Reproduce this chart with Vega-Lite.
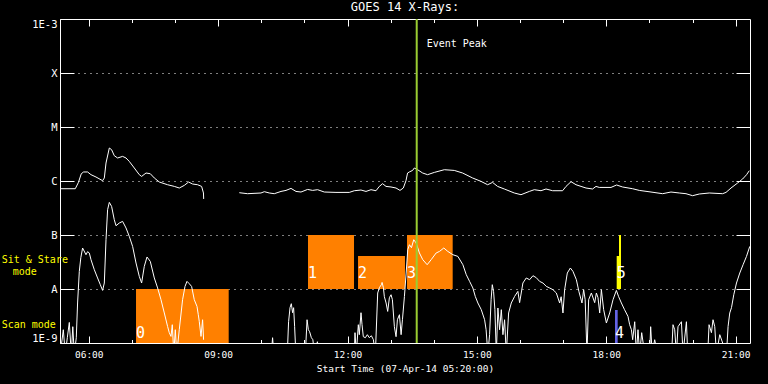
{
  "$schema": "https://vega.github.io/schema/vega-lite/v6.json",
  "width": 690,
  "height": 324,
  "autosize": "none",
  "padding": {"left": 60, "top": 19, "right": 18, "bottom": 41},
  "background": "black",
  "title": {"text": "GOES 14 X-Rays:", "color": "white", "font": "DejaVu Sans Mono", "fontSize": 12, "fontWeight": "normal", "anchor": "middle", "baseline": "alphabetic", "offset": -5},
  "config": {
    "view": {"stroke": null},
    "axis": {"domainColor": "white", "tickColor": "white", "labelColor": "white", "titleColor": "white", "labelFont": "DejaVu Sans Mono", "titleFont": "DejaVu Sans Mono", "titleFontWeight": "normal", "domainWidth": 1, "tickWidth": 1}
  },
  "datasets": {
    "boxes": [
      {"id": "0", "kind": "obs", "t0": 7.096, "t1": 9.245, "v0": -9, "v1": -8},
      {"id": "1", "kind": "obs", "t0": 11.084, "t1": 12.151, "v0": -8, "v1": -7},
      {"id": "2", "kind": "obs", "t0": 12.244, "t1": 13.333, "v0": -8, "v1": -7.389},
      {"id": "3", "kind": "obs", "t0": 13.38, "t1": 14.439, "v0": -8, "v1": -7},
      {"id": "4", "kind": "scan", "t0": 18.203, "t1": 18.265, "v0": -9, "v1": -8.389},
      {"id": "5", "kind": "stare", "t0": 18.242, "t1": 18.342, "v0": -8, "v1": -7.389},
      {"id": "", "kind": "stare", "t0": 18.296, "t1": 18.342, "v0": -8, "v1": -7}
    ],
    "peak": [{"t": 13.605}],
    "notes": [
      {"kind": "peak", "text": "Event Peak", "t": 13.836, "v": -3.519},
      {"kind": "mode", "text": "Sit & Stare", "t": 3.981, "v": -7.524},
      {"kind": "mode", "text": "mode", "t": 4.237, "v": -7.741},
      {"kind": "mode", "text": "Scan mode", "t": 3.981, "v": -8.717}
    ],
    "flux": [
      {"s":"L1","t":5.340,"v":-6.143},{"s":"L1","t":5.688,"v":-6.143},{"s":"L1","t":5.758,"v":-6.031},{"s":"L1","t":5.827,"v":-5.865},{"s":"L1","t":5.881,"v":-5.833},{"s":"L1","t":5.973,"v":-5.833},{"s":"L1","t":6.052,"v":-5.883},{"s":"L1","t":6.168,"v":-5.926},{"s":"L1","t":6.321,"v":-5.994},{"s":"L1","t":6.361,"v":-5.944},{"s":"L1","t":6.400,"v":-5.667},{"s":"L1","t":6.477,"v":-5.389},{"s":"L1","t":6.530,"v":-5.420},{"s":"L1","t":6.592,"v":-5.531},{"s":"L1","t":6.669,"v":-5.574},{"s":"L1","t":6.785,"v":-5.544},{"s":"L1","t":6.864,"v":-5.574},{"s":"L1","t":6.940,"v":-5.637},{"s":"L1","t":7.056,"v":-5.759},{"s":"L1","t":7.172,"v":-5.883},{"s":"L1","t":7.226,"v":-5.915},{"s":"L1","t":7.328,"v":-5.852},{"s":"L1","t":7.427,"v":-5.865},{"s":"L1","t":7.520,"v":-5.944},{"s":"L1","t":7.636,"v":-6.019},{"s":"L1","t":7.828,"v":-6.069},{"s":"L1","t":7.984,"v":-6.100},{"s":"L1","t":8.100,"v":-6.130},{"s":"L1","t":8.216,"v":-6.081},{"s":"L1","t":8.315,"v":-6.019},{"s":"L1","t":8.408,"v":-6.056},{"s":"L1","t":8.524,"v":-6.069},{"s":"L1","t":8.617,"v":-6.100},{"s":"L1","t":8.660,"v":-6.222},{"s":"L1","t":8.665,"v":-6.333},
      {"s":"L2","t":9.491,"v":-6.217},{"s":"L2","t":9.683,"v":-6.235},{"s":"L2","t":9.994,"v":-6.222},{"s":"L2","t":10.071,"v":-6.198},{"s":"L2","t":10.187,"v":-6.222},{"s":"L2","t":10.302,"v":-6.235},{"s":"L2","t":10.458,"v":-6.193},{"s":"L2","t":10.574,"v":-6.174},{"s":"L2","t":10.690,"v":-6.137},{"s":"L2","t":10.806,"v":-6.193},{"s":"L2","t":10.922,"v":-6.204},{"s":"L2","t":11.075,"v":-6.156},{"s":"L2","t":11.191,"v":-6.174},{"s":"L2","t":11.307,"v":-6.161},{"s":"L2","t":11.462,"v":-6.204},{"s":"L2","t":11.733,"v":-6.211},{"s":"L2","t":12.042,"v":-6.211},{"s":"L2","t":12.158,"v":-6.180},{"s":"L2","t":12.313,"v":-6.167},{"s":"L2","t":12.429,"v":-6.193},{"s":"L2","t":12.545,"v":-6.161},{"s":"L2","t":12.661,"v":-6.180},{"s":"L2","t":12.738,"v":-6.100},{"s":"L2","t":12.814,"v":-6.050},{"s":"L2","t":12.893,"v":-6.100},{"s":"L2","t":13.009,"v":-6.111},{"s":"L2","t":13.125,"v":-6.130},{"s":"L2","t":13.217,"v":-6.174},{"s":"L2","t":13.294,"v":-6.130},{"s":"L2","t":13.356,"v":-5.994},{"s":"L2","t":13.393,"v":-5.852},{"s":"L2","t":13.433,"v":-5.833},{"s":"L2","t":13.510,"v":-5.804},{"s":"L2","t":13.549,"v":-5.759},{"s":"L2","t":13.626,"v":-5.791},{"s":"L2","t":13.742,"v":-5.852},{"s":"L2","t":13.857,"v":-5.883},{"s":"L2","t":14.013,"v":-5.841},{"s":"L2","t":14.245,"v":-5.791},{"s":"L2","t":14.476,"v":-5.804},{"s":"L2","t":14.669,"v":-5.852},{"s":"L2","t":14.901,"v":-5.944},{"s":"L2","t":15.096,"v":-6.007},{"s":"L2","t":15.249,"v":-6.069},{"s":"L2","t":15.364,"v":-6.026},{"s":"L2","t":15.480,"v":-6.100},{"s":"L2","t":15.636,"v":-6.148},{"s":"L2","t":15.868,"v":-6.222},{"s":"L2","t":16.023,"v":-6.254},{"s":"L2","t":16.216,"v":-6.193},{"s":"L2","t":16.332,"v":-6.161},{"s":"L2","t":16.487,"v":-6.180},{"s":"L2","t":16.603,"v":-6.148},{"s":"L2","t":16.756,"v":-6.180},{"s":"L2","t":16.988,"v":-6.180},{"s":"L2","t":17.067,"v":-6.100},{"s":"L2","t":17.183,"v":-6.013},{"s":"L2","t":17.299,"v":-6.069},{"s":"L2","t":17.415,"v":-6.100},{"s":"L2","t":17.531,"v":-6.130},{"s":"L2","t":17.684,"v":-6.148},{"s":"L2","t":17.762,"v":-6.100},{"s":"L2","t":17.839,"v":-6.119},{"s":"L2","t":18.110,"v":-6.119},{"s":"L2","t":18.240,"v":-6.074},{"s":"L2","t":18.379,"v":-6.111},{"s":"L2","t":18.611,"v":-6.143},{"s":"L2","t":18.766,"v":-6.174},{"s":"L2","t":19.038,"v":-6.204},{"s":"L2","t":19.307,"v":-6.235},{"s":"L2","t":19.501,"v":-6.204},{"s":"L2","t":19.694,"v":-6.222},{"s":"L2","t":19.849,"v":-6.235},{"s":"L2","t":20.002,"v":-6.272},{"s":"L2","t":20.157,"v":-6.241},{"s":"L2","t":20.389,"v":-6.222},{"s":"L2","t":20.698,"v":-6.235},{"s":"L2","t":20.777,"v":-6.211},{"s":"L2","t":20.893,"v":-6.130},{"s":"L2","t":21.046,"v":-6.037},{"s":"L2","t":21.162,"v":-5.963},{"s":"L2","t":21.254,"v":-5.883},{"s":"L2","t":21.317,"v":-5.809},
      {"s":"S1","t":5.340,"v":-9.2},{"s":"S1","t":5.410,"v":-8.754},{"s":"S1","t":5.456,"v":-9.2},{"s":"S1","t":5.503,"v":-8.902},{"s":"S1","t":5.549,"v":-8.619},{"s":"S1","t":5.595,"v":-9.2},{"s":"S1","t":5.630,"v":-8.698},{"s":"S1","t":5.665,"v":-9.2},{"s":"S1","t":5.711,"v":-8.902},{"s":"S1","t":5.741,"v":-8.259},{"s":"S1","t":5.781,"v":-7.674},{"s":"S1","t":5.816,"v":-7.420},{"s":"S1","t":5.857,"v":-7.241},{"s":"S1","t":5.936,"v":-7.365},{"s":"S1","t":5.973,"v":-7.309},{"s":"S1","t":6.013,"v":-7.333},{"s":"S1","t":6.052,"v":-7.457},{"s":"S1","t":6.129,"v":-7.643},{"s":"S1","t":6.205,"v":-7.796},{"s":"S1","t":6.268,"v":-7.920},{"s":"S1","t":6.321,"v":-8.026},{"s":"S1","t":6.361,"v":-7.889},{"s":"S1","t":6.400,"v":-7.087},{"s":"S1","t":6.437,"v":-6.531},{"s":"S1","t":6.477,"v":-6.396},{"s":"S1","t":6.530,"v":-6.470},{"s":"S1","t":6.592,"v":-6.717},{"s":"S1","t":6.632,"v":-6.828},{"s":"S1","t":6.708,"v":-6.778},{"s":"S1","t":6.785,"v":-6.748},{"s":"S1","t":6.864,"v":-6.870},{"s":"S1","t":6.940,"v":-7.026},{"s":"S1","t":7.017,"v":-7.211},{"s":"S1","t":7.096,"v":-7.519},{"s":"S1","t":7.172,"v":-7.767},{"s":"S1","t":7.226,"v":-7.889},{"s":"S1","t":7.288,"v":-7.581},{"s":"S1","t":7.351,"v":-7.407},{"s":"S1","t":7.427,"v":-7.489},{"s":"S1","t":7.520,"v":-7.796},{"s":"S1","t":7.597,"v":-7.981},{"s":"S1","t":7.675,"v":-8.198},{"s":"S1","t":7.752,"v":-8.444},{"s":"S1","t":7.828,"v":-8.693},{"s":"S1","t":7.867,"v":-8.809},{"s":"S1","t":7.907,"v":-8.878},{"s":"S1","t":7.937,"v":-8.661},{"s":"S1","t":7.972,"v":-9.2},{"s":"S1","t":8.007,"v":-8.754},{"s":"S1","t":8.041,"v":-9.2},{"s":"S1","t":8.099,"v":-8.754},{"s":"S1","t":8.176,"v":-8.198},{"s":"S1","t":8.232,"v":-7.952},{"s":"S1","t":8.278,"v":-7.859},{"s":"S1","t":8.331,"v":-7.902},{"s":"S1","t":8.385,"v":-7.952},{"s":"S1","t":8.447,"v":-8.198},{"s":"S1","t":8.510,"v":-8.322},{"s":"S1","t":8.540,"v":-8.476},{"s":"S1","t":8.563,"v":-8.600},{"s":"S1","t":8.603,"v":-8.878},{"s":"S1","t":8.640,"v":-8.569},{"s":"S1","t":8.663,"v":-8.94},
      {"s":"S2","t":9.491,"v":-9.2},{"s":"S2","t":10.233,"v":-9.2},{"s":"S2","t":10.263,"v":-8.902},{"s":"S2","t":10.291,"v":-9.2},{"s":"S2","t":10.604,"v":-9.2},{"s":"S2","t":10.634,"v":-8.606},{"s":"S2","t":10.667,"v":-8.346},{"s":"S2","t":10.697,"v":-8.272},{"s":"S2","t":10.727,"v":-8.439},{"s":"S2","t":10.751,"v":-8.346},{"s":"S2","t":10.774,"v":-8.698},{"s":"S2","t":10.802,"v":-9.2},{"s":"S2","t":11.023,"v":-9.2},{"s":"S2","t":11.062,"v":-8.569},{"s":"S2","t":11.092,"v":-8.754},{"s":"S2","t":11.122,"v":-8.791},{"s":"S2","t":11.162,"v":-8.902},{"s":"S2","t":11.197,"v":-8.939},{"s":"S2","t":11.232,"v":-9.2},{"s":"S2","t":11.302,"v":-8.976},{"s":"S2","t":11.340,"v":-9.2},{"s":"S2","t":12.158,"v":-9.2},{"s":"S2","t":12.174,"v":-8.809},{"s":"S2","t":12.204,"v":-9.2},{"s":"S2","t":12.251,"v":-8.661},{"s":"S2","t":12.274,"v":-8.846},{"s":"S2","t":12.313,"v":-8.439},{"s":"S2","t":12.337,"v":-8.661},{"s":"S2","t":12.367,"v":-8.883},{"s":"S2","t":12.414,"v":-8.902},{"s":"S2","t":12.460,"v":-8.846},{"s":"S2","t":12.507,"v":-8.902},{"s":"S2","t":12.553,"v":-8.865},{"s":"S2","t":12.600,"v":-8.939},{"s":"S2","t":12.646,"v":-9.2},{"s":"S2","t":12.700,"v":-8.074},{"s":"S2","t":12.739,"v":-7.976},{"s":"S2","t":12.786,"v":-7.920},{"s":"S2","t":12.802,"v":-7.878},{"s":"S2","t":12.832,"v":-7.976},{"s":"S2","t":12.855,"v":-8.143},{"s":"S2","t":12.895,"v":-8.259},{"s":"S2","t":12.932,"v":-8.415},{"s":"S2","t":12.971,"v":-8.161},{"s":"S2","t":13.010,"v":-8.106},{"s":"S2","t":13.041,"v":-8.198},{"s":"S2","t":13.087,"v":-8.698},{"s":"S2","t":13.126,"v":-8.883},{"s":"S2","t":13.157,"v":-8.569},{"s":"S2","t":13.204,"v":-8.476},{"s":"S2","t":13.243,"v":-8.846},{"s":"S2","t":13.274,"v":-8.569},{"s":"S2","t":13.320,"v":-8.137},{"s":"S2","t":13.360,"v":-7.704},{"s":"S2","t":13.397,"v":-7.272},{"s":"S2","t":13.436,"v":-7.180},{"s":"S2","t":13.483,"v":-7.235},{"s":"S2","t":13.536,"v":-7.087},{"s":"S2","t":13.592,"v":-7.148},{"s":"S2","t":13.668,"v":-7.333},{"s":"S2","t":13.745,"v":-7.457},{"s":"S2","t":13.847,"v":-7.550},{"s":"S2","t":13.940,"v":-7.457},{"s":"S2","t":14.056,"v":-7.333},{"s":"S2","t":14.133,"v":-7.304},{"s":"S2","t":14.233,"v":-7.241},{"s":"S2","t":14.326,"v":-7.304},{"s":"S2","t":14.443,"v":-7.365},{"s":"S2","t":14.559,"v":-7.396},{"s":"S2","t":14.675,"v":-7.550},{"s":"S2","t":14.754,"v":-7.735},{"s":"S2","t":14.831,"v":-7.859},{"s":"S2","t":14.907,"v":-7.981},{"s":"S2","t":14.963,"v":-8.137},{"s":"S2","t":15.023,"v":-8.259},{"s":"S2","t":15.102,"v":-8.383},{"s":"S2","t":15.179,"v":-8.569},{"s":"S2","t":15.214,"v":-8.754},{"s":"S2","t":15.255,"v":-9.2},{"s":"S2","t":15.295,"v":-8.846},{"s":"S2","t":15.330,"v":-8.198},{"s":"S2","t":15.357,"v":-7.920},{"s":"S2","t":15.388,"v":-8.050},{"s":"S2","t":15.418,"v":-8.383},{"s":"S2","t":15.451,"v":-9.2},{"s":"S2","t":15.488,"v":-8.352},{"s":"S2","t":15.527,"v":-8.754},{"s":"S2","t":15.567,"v":-8.383},{"s":"S2","t":15.604,"v":-8.846},{"s":"S2","t":15.643,"v":-8.569},{"s":"S2","t":15.682,"v":-9.2},{"s":"S2","t":15.736,"v":-8.444},{"s":"S2","t":15.798,"v":-8.259},{"s":"S2","t":15.875,"v":-8.137},{"s":"S2","t":15.951,"v":-8.044},{"s":"S2","t":15.991,"v":-8.253},{"s":"S2","t":16.067,"v":-7.889},{"s":"S2","t":16.145,"v":-7.796},{"s":"S2","t":16.223,"v":-7.828},{"s":"S2","t":16.300,"v":-7.754},{"s":"S2","t":16.378,"v":-7.791},{"s":"S2","t":16.455,"v":-7.859},{"s":"S2","t":16.532,"v":-7.889},{"s":"S2","t":16.611,"v":-7.952},{"s":"S2","t":16.687,"v":-7.981},{"s":"S2","t":16.764,"v":-8.013},{"s":"S2","t":16.843,"v":-8.074},{"s":"S2","t":16.919,"v":-8.259},{"s":"S2","t":16.954,"v":-8.143},{"s":"S2","t":16.996,"v":-8.444},{"s":"S2","t":17.035,"v":-8.013},{"s":"S2","t":17.097,"v":-7.704},{"s":"S2","t":17.168,"v":-7.611},{"s":"S2","t":17.228,"v":-7.674},{"s":"S2","t":17.307,"v":-7.828},{"s":"S2","t":17.367,"v":-8.050},{"s":"S2","t":17.437,"v":-8.259},{"s":"S2","t":17.476,"v":-8.013},{"s":"S2","t":17.511,"v":-8.198},{"s":"S2","t":17.553,"v":-9.2},{"s":"S2","t":17.592,"v":-8.198},{"s":"S2","t":17.655,"v":-8.074},{"s":"S2","t":17.732,"v":-8.253},{"s":"S2","t":17.771,"v":-8.074},{"s":"S2","t":17.809,"v":-8.161},{"s":"S2","t":17.848,"v":-8.444},{"s":"S2","t":17.887,"v":-8.013},{"s":"S2","t":17.940,"v":-8.383},{"s":"S2","t":18.003,"v":-8.630},{"s":"S2","t":18.080,"v":-8.444},{"s":"S2","t":18.157,"v":-8.198},{"s":"S2","t":18.235,"v":-8.026},{"s":"S2","t":18.288,"v":-8.143},{"s":"S2","t":18.351,"v":-8.259},{"s":"S2","t":18.424,"v":-8.383},{"s":"S2","t":18.504,"v":-8.507},{"s":"S2","t":18.543,"v":-8.661},{"s":"S2","t":18.583,"v":-8.754},{"s":"S2","t":18.613,"v":-8.939},{"s":"S2","t":18.660,"v":-8.606},{"s":"S2","t":18.699,"v":-9.2},{"s":"S2","t":18.736,"v":-8.754},{"s":"S2","t":18.775,"v":-9.2},{"s":"S2","t":18.822,"v":-8.809},{"s":"S2","t":18.891,"v":-9.2},{"s":"S2","t":19.007,"v":-9.2},{"s":"S2","t":19.030,"v":-8.698},{"s":"S2","t":19.065,"v":-9.2},{"s":"S2","t":19.123,"v":-8.939},{"s":"S2","t":19.193,"v":-9.2},{"s":"S2","t":19.517,"v":-9.2},{"s":"S2","t":19.548,"v":-8.661},{"s":"S2","t":19.587,"v":-8.754},{"s":"S2","t":19.627,"v":-9.2},{"s":"S2","t":19.664,"v":-8.698},{"s":"S2","t":19.743,"v":-8.606},{"s":"S2","t":19.780,"v":-9.2},{"s":"S2","t":19.859,"v":-8.606},{"s":"S2","t":19.889,"v":-9.2},{"s":"S2","t":20.353,"v":-9.2},{"s":"S2","t":20.384,"v":-8.661},{"s":"S2","t":20.439,"v":-8.809},{"s":"S2","t":20.476,"v":-8.569},{"s":"S2","t":20.516,"v":-8.698},{"s":"S2","t":20.555,"v":-9.2},{"s":"S2","t":20.632,"v":-8.846},{"s":"S2","t":20.788,"v":-9.2},{"s":"S2","t":20.825,"v":-8.693},{"s":"S2","t":20.864,"v":-8.444},{"s":"S2","t":20.904,"v":-8.346},{"s":"S2","t":20.957,"v":-8.106},{"s":"S2","t":21.020,"v":-7.889},{"s":"S2","t":21.096,"v":-7.704},{"s":"S2","t":21.173,"v":-7.550},{"s":"S2","t":21.252,"v":-7.396},{"s":"S2","t":21.328,"v":-7.211}
    ]
  },
  "layer": [
    {
      "data": {"name": "boxes"},
      "mark": {"type": "rect", "clip": true},
      "encoding": {
        "x": {"field": "t0", "type": "quantitative", "scale": {"domain": [5.3333, 21.3333], "nice": false, "zero": false},
          "axis": {"orient": "top", "values": [6,7,8,9,10,11,12,13,14,15,16,17,18,19,20,21], "labels": false, "title": null, "grid": false,
            "tickSize": {"condition": {"test": "datum.value % 3 === 0", "value": -7}, "value": -3.5}}},
        "x2": {"field": "t1"},
        "y": {"field": "v0", "type": "quantitative", "scale": {"domain": [-9, -3], "nice": false, "zero": false},
          "axis": {"orient": "right", "values": [-8,-7,-6,-5,-4], "labels": false, "title": null, "grid": false, "tickSize": -14}},
        "y2": {"field": "v1"},
        "color": {"field": "kind", "type": "nominal", "scale": {"domain": ["obs", "scan", "stare"], "range": ["#FF8000", "#6464E6", "#FFFF00"]}, "legend": null}
      }
    },
    {
      "data": {"name": "flux"},
      "mark": {"type": "line", "color": "white", "strokeWidth": 1, "clip": true},
      "encoding": {
        "x": {"field": "t", "type": "quantitative", "scale": {"domain": [5.3333, 21.3333], "nice": false, "zero": false},
          "axis": {"orient": "bottom", "values": [6,7,8,9,10,11,12,13,14,15,16,17,18,19,20,21], "grid": false, "labelFlush": false,
            "labelExpr": "datum.value % 3 === 0 ? (datum.value < 10 ? '0' : '') + datum.value + ':00' : ''",
            "labelFontSize": 9.5, "labelPadding": 13,
            "tickSize": {"condition": {"test": "datum.value % 3 === 0", "value": -7}, "value": -3.5},
            "title": "Start Time (07-Apr-14 05:20:00)", "titleFontSize": 9.5, "titlePadding": 5}},
        "y": {"field": "v", "type": "quantitative", "scale": {"domain": [-9, -3], "nice": false, "zero": false},
          "axis": {"orient": "left", "values": [-9,-8,-7,-6,-5,-4,-3], "title": null, "labelFlush": true,
            "labelExpr": "datum.value === -9 ? '1E-9' : datum.value === -8 ? 'A' : datum.value === -7 ? 'B' : datum.value === -6 ? 'C' : datum.value === -5 ? 'M' : datum.value === -4 ? 'X' : '1E-3'",
            "labelFontSize": 10.5, "labelPadding": 17, "tickSize": -14,
            "grid": true, "gridColor": "white", "gridDash": [1, 5], "gridOpacity": 1, "gridWidth": 1}},
        "detail": {"field": "s", "type": "nominal"}
      }
    },
    {
      "data": {"name": "peak"},
      "mark": {"type": "rule", "color": "#9ACD32", "strokeWidth": 2},
      "encoding": {"x": {"field": "t", "type": "quantitative", "axis": null}}
    },
    {
      "data": {"name": "boxes"},
      "transform": [{"filter": "datum.v0 === -9"}],
      "mark": {"type": "text", "color": "white", "font": "DejaVu Sans Mono", "fontSize": 15, "align": "left", "baseline": "alphabetic", "dx": 0, "dy": -4.7},
      "encoding": {
        "x": {"field": "t0", "type": "quantitative", "axis": null},
        "y": {"field": "v0", "type": "quantitative", "axis": null},
        "text": {"field": "id"}
      }
    },
    {
      "data": {"name": "boxes"},
      "transform": [{"filter": "datum.v0 === -8"}],
      "mark": {"type": "text", "color": "white", "font": "DejaVu Sans Mono", "fontSize": 15, "align": "left", "baseline": "alphabetic", "dx": 0, "dy": -11.3},
      "encoding": {
        "x": {"field": "t0", "type": "quantitative", "axis": null},
        "y": {"field": "v0", "type": "quantitative", "axis": null},
        "text": {"field": "id"}
      }
    },
    {
      "data": {"name": "notes"},
      "transform": [{"filter": "datum.kind === 'peak'"}],
      "mark": {"type": "text", "color": "white", "font": "DejaVu Sans Mono", "fontSize": 10, "align": "left", "baseline": "alphabetic"},
      "encoding": {
        "x": {"field": "t", "type": "quantitative", "axis": null},
        "y": {"field": "v", "type": "quantitative", "axis": null},
        "text": {"field": "text"}
      }
    },
    {
      "data": {"name": "notes"},
      "transform": [{"filter": "datum.kind === 'mode'"}],
      "mark": {"type": "text", "color": "#FFFF00", "font": "DejaVu Sans Mono", "fontSize": 10, "align": "left", "baseline": "alphabetic"},
      "encoding": {
        "x": {"field": "t", "type": "quantitative", "axis": null},
        "y": {"field": "v", "type": "quantitative", "axis": null},
        "text": {"field": "text"}
      }
    }
  ],
  "resolve": {"axis": {"x": "independent", "y": "independent"}}
}
